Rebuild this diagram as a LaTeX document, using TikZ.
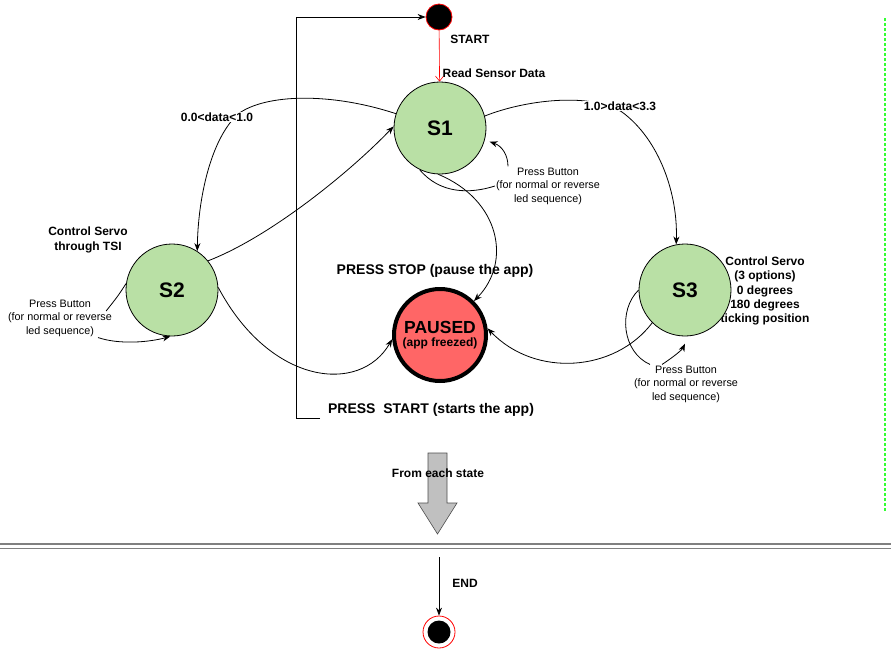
\documentclass[tikz,border=0pt]{standalone}
\usepackage{fontspec}
\setmainfont{Liberation Sans}
\usetikzlibrary{arrows.meta}
\definecolor{stategreen}{HTML}{B9E0A5}
\definecolor{pausered}{HTML}{FF6666}
\definecolor{dashgreen}{HTML}{33FF33}
\definecolor{blockgray}{HTML}{C0C0C0}
\definecolor{linegray}{HTML}{808080}
\begin{document}
\begin{tikzpicture}[x=1pt,y=-1pt,
  state/.style={circle,draw=black,line width=0.8pt,fill=stategreen,minimum size=92pt,inner sep=0pt,font=\bfseries\fontsize{21}{24}\selectfont},
  lbl/.style={font=\bfseries\fontsize{12}{14.3}\selectfont,align=center,inner sep=1pt},
  small/.style={font=\fontsize{10.8}{13.5}\selectfont,align=center,inner sep=1pt},
  arr/.style={-{Stealth[length=8pt,width=6pt]},line width=0.8pt},
  link/.style={line width=0.8pt}
]
\useasboundingbox (0,0) rectangle (891,651);

% text beside S3 (drawn under the circle)
\node[lbl] (s3txt) at (765,291) {Control Servo\\(3 options)\\0 degrees\\180 degrees\\ticking position};

% states
\node[state] (S1) at (440,128) {S1};
\node[state] (S2) at (172,290) {S2};
\node[state] (S3) at (685,290) {S3};
\node[circle,draw=black,line width=4pt,fill=pausered,minimum size=92pt,inner sep=0pt,align=center] (P) at (440,335)
  {{\bfseries\fontsize{17.5}{18}\selectfont PAUSED}\\[1pt]{\bfseries\fontsize{12}{14}\selectfont (app freezed)}};

% start
\node[circle,fill=black,draw=red,line width=0.8pt,minimum size=26pt,inner sep=0pt] (start) at (439,17) {};
\node[lbl] (starttxt) at (470,39) {START};
\draw[red,line width=0.6pt,-{Straight Barb[length=5pt,width=8pt]}] (start) -- (S1);
\node[lbl] (readtxt) at (494,73) {Read Sensor Data};

% other labels
\node[lbl] (s2txt) at (88,240) {Control Servo\\through TSI};
\node[font=\bfseries\fontsize{14}{16}\selectfont,inner sep=1pt] (stoptxt) at (435,271) {PRESS STOP (pause the app)};
\node[font=\bfseries\fontsize{14}{16}\selectfont,inner sep=1pt] (starttxt2) at (431,410) {PRESS~~START (starts the app)};

\node[small] (pb1) at (548,186) {Press Button\\(for normal or reverse\\led sequence)};
\node[small] (pb2) at (60,318) {Press Button\\(for normal or reverse\\led sequence)};
\node[small] (pb3) at (686,384) {Press Button\\(for normal or reverse\\led sequence)};

% feedback line to start
\coordinate (fb) at (320,418);
\draw[arr] (fb) -- ++(-24,0) |- (start.west);

% transitions
\draw[arr] (S1.162) .. controls (330,92) and (265,94) .. (238,114) .. controls (210,140) and (198,200) .. (S2.57);
\draw[arr] (S2.39) .. controls (270,237) and (350,172) .. (S1.178);
\draw[arr] (S1.15) .. controls (525,100) and (590,92) .. (622,112) .. controls (660,140) and (678,195) .. (S3.101);
\draw[arr] (S1.268) .. controls (500,200) and (512,262) .. (P.45);
\draw[arr] (S2.3) .. controls (270,385) and (360,395) .. (P.185);
\draw[arr] (S3.225) .. controls (615,372) and (535,378) .. (P.8);

% self loops
\draw[link] (S1.244) .. controls (440,194) and (470,194) .. (pb1.west);
\draw[arr,shorten >=5pt] ([xshift=-40pt]pb1.north) .. controls (508,155) and (502,146) .. (S1.345);
\draw[link] (S2.172) .. controls (118,296) .. ([xshift=-7pt,yshift=7pt]pb2.east);
\draw[arr] ([xshift=38pt]pb2.south) .. controls (120,345) and (150,342) .. (S2.268);
\draw[link] (S3.180) .. controls (618,310) and (622,352) .. ([xshift=-36pt]pb3.north);
\draw[arr,shorten >=8pt] ([xshift=-24pt]pb3.north) .. controls (672,358) and (682,350) .. (S3.274);

% edge labels on top
\node[lbl,fill=white] (l01) at (217,117) {0.0<data<1.0};
\node[lbl,fill=white] (l13) at (620,106) {1.0>data<3.3};

% block arrow
\draw[fill=blockgray,draw=gray!60!black,line width=0.6pt] (428,453) -- (447,453) -- (447,503) -- (457,503) -- (437.5,534) -- (418,503) -- (428,503) -- cycle;
\node[lbl] (eachtxt) at (438,473) {From each state};

% separator
\draw[linegray,line width=1.4pt] (0,544) -- (891,544);
\draw[linegray,line width=1.4pt] (0,548.5) -- (891,548.5);

% end
\node[circle,draw=red,fill=white,line width=0.8pt,minimum size=32pt,inner sep=0pt] (endc) at (439,632) {};
\fill[black] (endc.center) circle (11.5);
\coordinate (endtop) at (439,557);
\draw[arr] (endtop) -- (endc.north);
\node[lbl] (endtxt) at (465,583) {END};

% green dashed line
\draw[dashgreen,line width=1.2pt,dash pattern=on 3pt off 2pt] (885,18) -- (885,512);
\end{tikzpicture}
\end{document}
